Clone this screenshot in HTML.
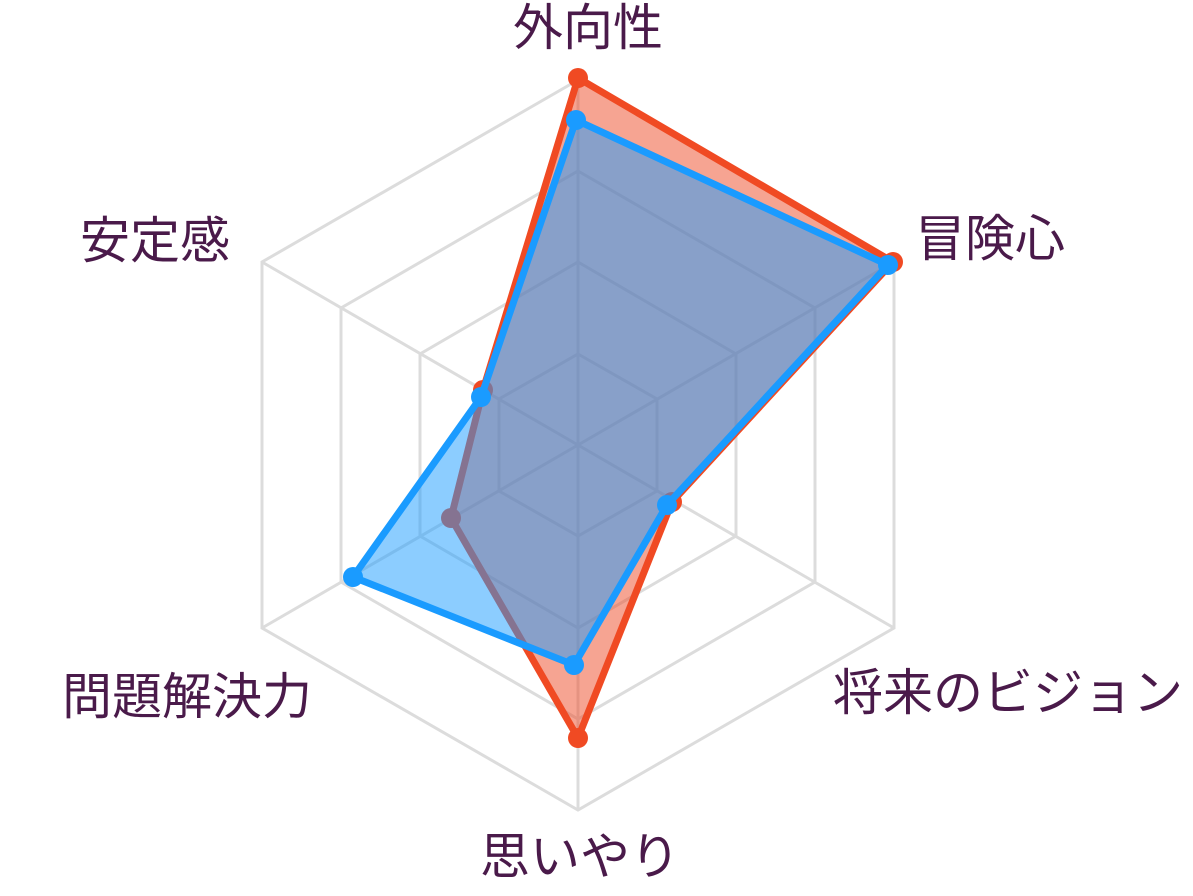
<!DOCTYPE html>
<html><head><meta charset="utf-8"><style>
html,body{margin:0;padding:0;background:#fff;}
svg text{font-family:"Liberation Sans","Noto Sans CJK JP",sans-serif;font-size:50px;fill:#4a1a4a;}
</style></head><body>
<svg width="1193" height="891" viewBox="0 0 1193 891" xmlns="http://www.w3.org/2000/svg">
<g fill="none" stroke="#dcdcdc" stroke-width="3">
<polygon points="578,80 894,262 894,628 578,810 262,628 262,262"/>
<polygon points="578,171 815,308 815,582 578,719 341,582 341,308"/>
<polygon points="578,262 736,354 736,536 578,628 420,536 420,354"/>
<polygon points="578,354 657,399 657,491 578,536 499,491 499,399"/>
<line x1="578" y1="445" x2="578" y2="80"/>
<line x1="578" y1="445" x2="894" y2="262"/>
<line x1="578" y1="445" x2="894" y2="628"/>
<line x1="578" y1="445" x2="578" y2="810"/>
<line x1="578" y1="445" x2="262" y2="628"/>
<line x1="578" y1="445" x2="262" y2="262"/>
</g>
<g>
<polygon points="578,78 893,262 672,502 578,738 451,518 483,390" fill="rgba(238,74,38,0.5)" stroke="#f04a23" stroke-width="7" stroke-linejoin="round"/>
<g fill="#f04a23">
<circle cx="578" cy="78" r="10"/><circle cx="893" cy="262" r="10"/><circle cx="672" cy="502" r="10"/>
<circle cx="578" cy="738" r="10"/><circle cx="451" cy="518" r="10"/><circle cx="483" cy="390" r="10"/>
</g>
<polygon points="576,120 888,265 667,505 574,665 353,577 481,397" fill="rgba(26,155,255,0.5)" stroke="#1a9bff" stroke-width="7" stroke-linejoin="round"/>
<g fill="#1a9bff">
<circle cx="576" cy="120" r="10"/><circle cx="888" cy="265" r="10"/><circle cx="667" cy="505" r="10"/>
<circle cx="574" cy="665" r="10"/><circle cx="353" cy="577" r="10"/><circle cx="481" cy="397" r="10"/>
</g>
</g>
<text x="588" y="45" text-anchor="middle">外向性</text>
<text x="915" y="256">冒険心</text>
<text x="833" y="710">将来のビジョン</text>
<text x="580" y="874" text-anchor="middle">思いやり</text>
<text x="312" y="714" text-anchor="end">問題解決力</text>
<text x="230" y="258" text-anchor="end">安定感</text>
</svg>
</body></html>
